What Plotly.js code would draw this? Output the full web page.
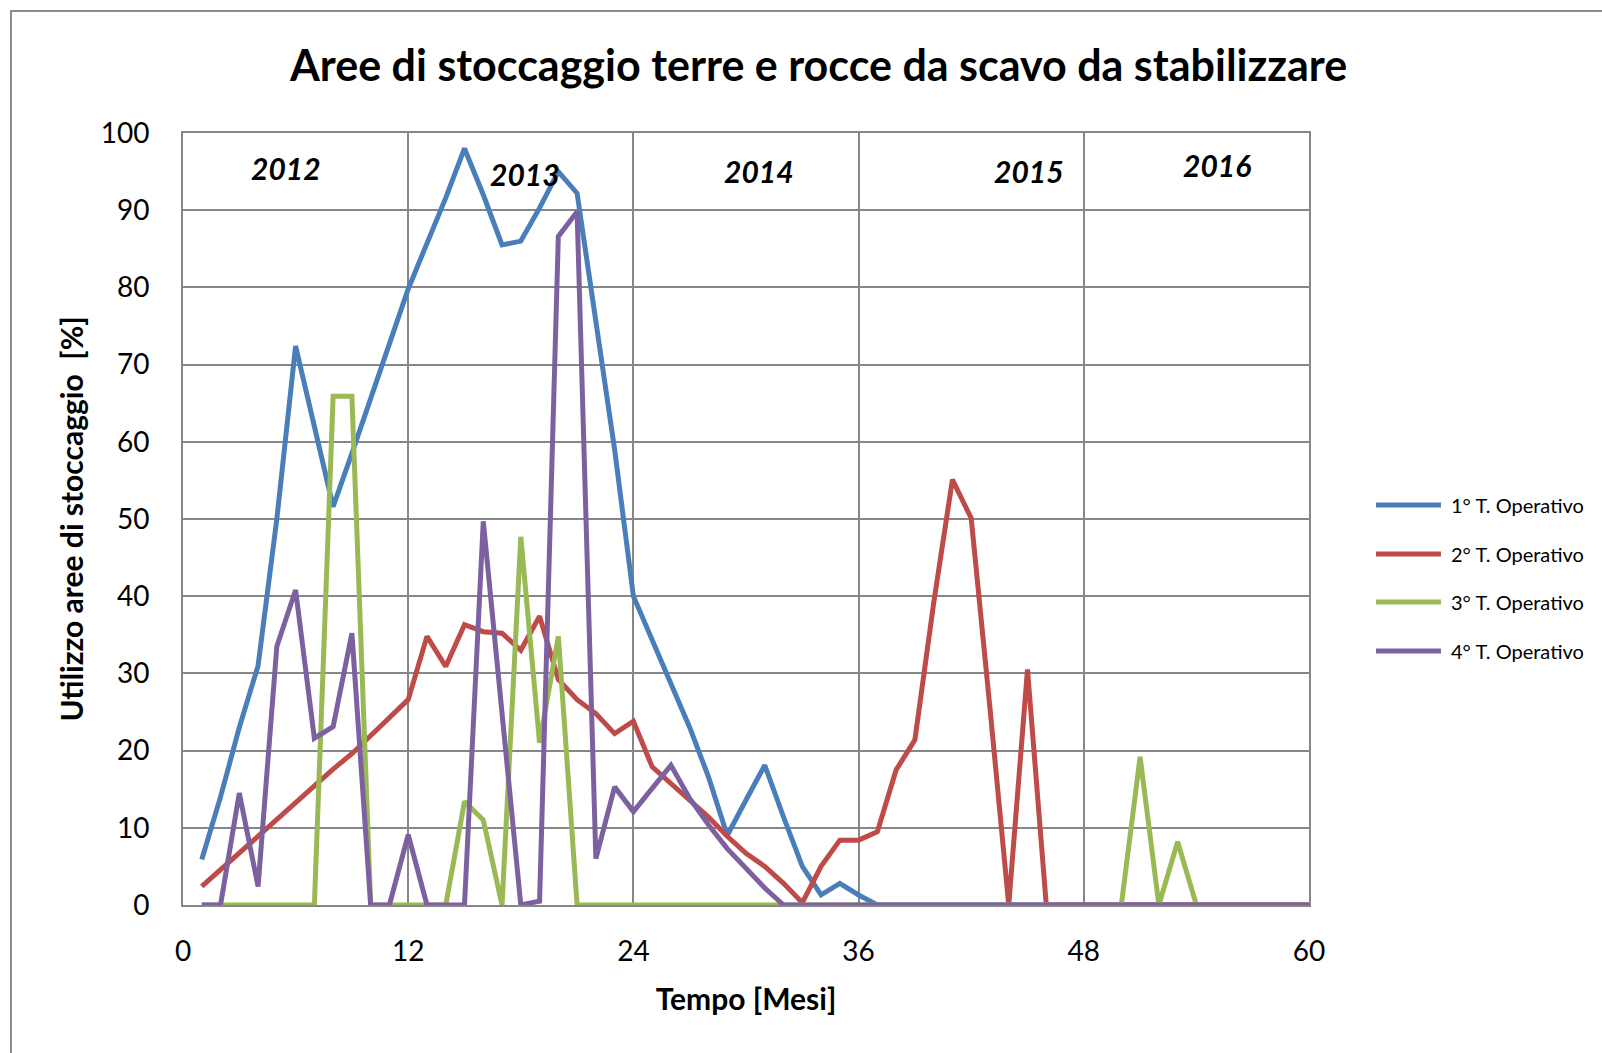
<!DOCTYPE html>
<html>
<head>
<meta charset="utf-8">
<script src="https://cdn.plot.ly/plotly-3.0.1.min.js"></script>
<style>
  html, body { margin: 0; padding: 0; background: #ffffff; }
  #frame { position: absolute; left: 10px; top: 10px; width: 1600px; height: 1050px;
           border-left: 2px solid #8c8c8c; border-top: 2px solid #8c8c8c; }
  #chart { position: absolute; left: 0; top: 0; width: 1602px; height: 1053px; }
</style>
</head>
<body>
<div id="frame"></div>
<div id="chart"></div>
<script>
const months = [1,2,3,4,5,6,7,8,9,10,11,12,13,14,15,16,17,18,19,20,21,22,23,24,25,26,27,28,29,30,
                31,32,33,34,35,36,37,38,39,40,41,42,43,44,45,46,47,48,49,50,51,52,53,54,55,56,57,58,59,60];

const seriesNames = ["1° T. Operativo", "2° T. Operativo", "3° T. Operativo", "4° T. Operativo"];

const op1 = [5.9,14,23,31,50,72.4,62,51.6,58.5,65.5,72.5,79.8,85.7,91.6,98,92,85.5,86,90.3,95,
             92.2,76,59,40,34.3,29,23,16.6,9,13.6,18.1,11.4,5,1.3,2.8,1.3,0,0,0,0,
             0,0,0,0,0,0,0,0,0,0,0,0,0,0,0,0,0,0,0,0];
const op2 = [2.4,4.6,6.8,9.0,11.2,13.3,15.5,17.6,19.6,22.0,24.2,26.6,34.8,30.9,36.3,35.4,35.2,33.0,37.4,29.2,
             26.6,24.8,22.2,23.8,17.9,15.8,13.6,11.4,8.9,6.7,5.0,2.8,0.3,5.0,8.4,8.4,9.5,17.5,21.4,39.1,
             55.1,50.1,25.5,0,30.5,0,0,0,0,0,0,0,0,0,0,0,0,0,0,0];
const op3 = [0,0,0,0,0,0,0,65.9,65.9,0,0,0,0,0,13.4,11.0,0,47.7,21.0,34.8,
             0,0,0,0,0,0,0,0,0,0,0,0,0,0,0,0,0,0,0,0,
             0,0,0,0,0,0,0,0,0,0,19.2,0,8.2,0,0,0,0,0,0,0];
const op4 = [0,0,14.5,2.4,33.5,40.8,21.6,23.1,35.2,0,0,9.1,0,0,0,49.7,25,0,0.5,86.6,
             89.8,6.0,15.3,12.1,15.1,18.1,13.8,10.4,7.3,4.8,2.2,0,0,0,0,0,0,0,0,0,
             0,0,0,0,0,0,0,0,0,0,0,0,0,0,0,0,0,0,0,0];

const yearLabels = ["2012", "2013", "2014", "2015", "2016"];
const yearX = [5.47, 18.2, 30.7, 45.1, 55.1];
const yearY = [95.5, 94.7, 95.1, 95.1, 95.8];

const colors = ["#4a7ebb", "#be4b48", "#98b954", "#7d60a0"];
const values = [op1, op2, op3, op4];

const FONT = "Lato, 'Liberation Sans', sans-serif";

const traces = values.map((v, i) => ({
  x: months, y: v, type: "scatter", mode: "lines",
  name: seriesNames[i], showlegend: false,
  line: { color: colors[i], width: 5 },
  hoverinfo: "x+y+name"
}));

const annotations = yearLabels.map((t, i) => ({
  x: yearX[i], y: yearY[i], xref: "x", yref: "y", text: t, showarrow: false,
  font: { family: FONT, size: 30, color: "#000", weight: "bold", style: "italic" }
}));

// Legend drawn beside the plot (long line samples like the original)
const legY = [0.518, 0.4547, 0.3925, 0.329];
const shapes = [];
seriesNames.forEach((n, i) => {
  shapes.push({ type: "line", xref: "paper", yref: "paper",
    x0: 1.0595, x1: 1.1172, y0: legY[i], y1: legY[i],
    line: { color: colors[i], width: 5 } });
  annotations.push({ xref: "paper", yref: "paper", x: 1.1243, y: legY[i],
    xanchor: "left", yanchor: "middle", text: n, showarrow: false,
    font: { family: FONT, size: 20, color: "#000" } });
});

const layout = {
  width: 1602, height: 1053,
  paper_bgcolor: "rgba(0,0,0,0)", plot_bgcolor: "#ffffff",
  margin: { l: 183, r: 293, t: 133, b: 148 },
  title: {
    text: "Aree di stoccaggio terre e rocce da scavo da stabilizzare",
    font: { family: FONT, size: 43, color: "#000", weight: "bold" },
    x: 0.511, xanchor: "center", y: 0.937, yanchor: "middle"
  },
  xaxis: {
    range: [0, 60], tickmode: "linear", tick0: 0, dtick: 12,
    showgrid: true, gridcolor: "#878787", gridwidth: 2,
    showline: true, linecolor: "#878787", linewidth: 2, mirror: true,
    zeroline: false, ticks: "", ticklabelstandoff: 20,
    tickfont: { family: FONT, size: 28, color: "#000" },
    title: { text: "Tempo [Mesi]", font: { family: FONT, size: 30, color: "#000", weight: "bold" }, standoff: 23 }
  },
  yaxis: {
    range: [0, 100], tickmode: "linear", tick0: 0, dtick: 10,
    showgrid: true, gridcolor: "#878787", gridwidth: 2,
    showline: true, linecolor: "#878787", linewidth: 2, mirror: true,
    zeroline: false, ticks: "", ticklabelstandoff: 26,
    tickfont: { family: FONT, size: 28, color: "#000" },
    title: { text: "Utilizzo aree di stoccaggio  [%]", font: { family: FONT, size: 30, color: "#000", weight: "bold" }, standoff: 8 }
  },
  showlegend: false,
  shapes: shapes,
  annotations: annotations
};

Plotly.newPlot("chart", traces, layout, { displayModeBar: false });
</script>
</body>
</html>
